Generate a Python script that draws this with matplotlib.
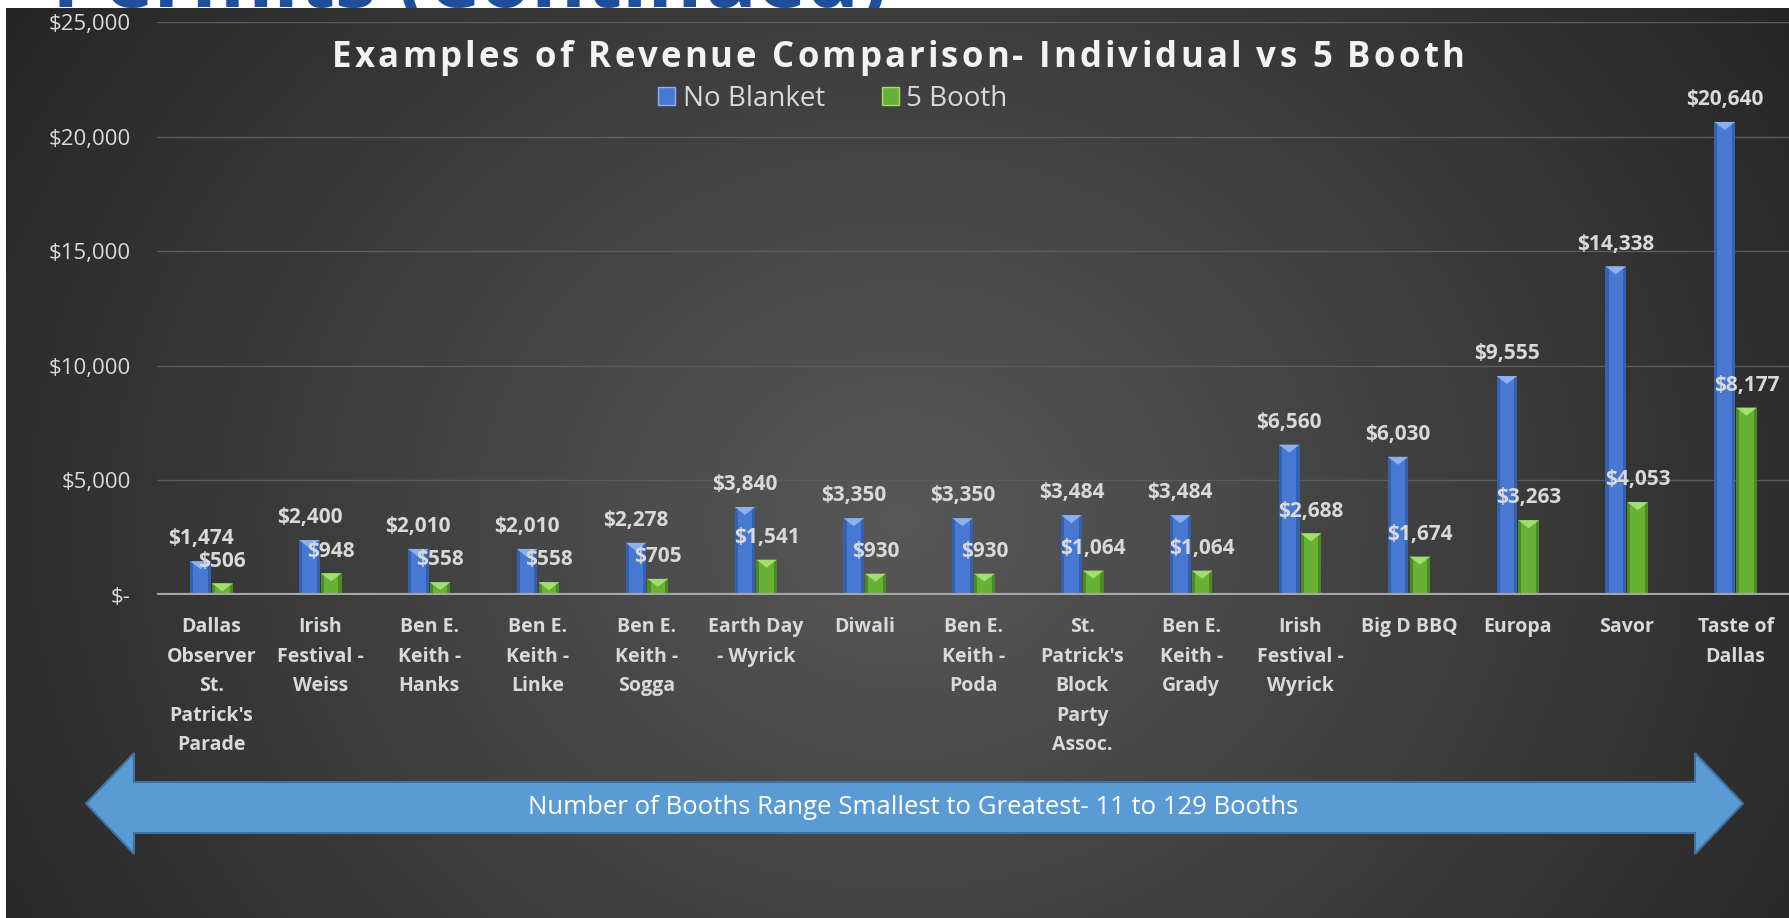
import numpy as np
import matplotlib
matplotlib.use("Agg")
import matplotlib.pyplot as plt
from matplotlib.patches import Polygon, Patch
from matplotlib.textpath import TextToPath
from matplotlib.font_manager import FontProperties

# ---- data ----
categories = [
    "Dallas\nObserver\nSt.\nPatrick's\nParade",
    "Irish\nFestival -\nWeiss",
    "Ben E.\nKeith -\nHanks",
    "Ben E.\nKeith -\nLinke",
    "Ben E.\nKeith -\nSogga",
    "Earth Day\n- Wyrick",
    "Diwali",
    "Ben E.\nKeith -\nPoda",
    "St.\nPatrick's\nBlock\nParty\nAssoc.",
    "Ben E.\nKeith -\nGrady",
    "Irish\nFestival -\nWyrick",
    "Big D BBQ",
    "Europa",
    "Savor",
    "Taste of\nDallas",
]
no_blanket = [1474, 2400, 2010, 2010, 2278, 3840, 3350, 3350, 3484, 3484, 6560, 6030, 9555, 14338, 20640]
five_booth = [506, 948, 558, 558, 705, 1541, 930, 930, 1064, 1064, 2688, 1674, 3263, 4053, 8177]
series_names = ["No Blanket", "5 Booth"]
y_ticks = [0, 5000, 10000, 15000, 20000, 25000]
y_tick_labels = ["$-", "$5,000", "$10,000", "$15,000", "$20,000", "$25,000"]
title = "Examples of Revenue Comparison- Individual vs 5 Booth"
arrow_text = "Number of Booths Range Smallest to Greatest- 11 to 129 Booths"
header_text = "Permits (Continued)"

W, H = 1790, 918
DPI = 100
FONT = "Open Sans"

fig = plt.figure(figsize=(W / DPI, H / DPI), dpi=DPI)
fig.patch.set_facecolor("white")

# header text partly hidden behind dark panel
fig.text(52 / W, 1 - 7 / H, header_text, ha="left", va="baseline",
         fontsize=60, fontweight="bold", family=FONT, color="#1F4E9C", zorder=-2)

# dark radial-gradient panel
px0, py0 = 6, 8
bg = fig.add_axes([px0 / W, 0, 1 - px0 / W, 1 - py0 / H], zorder=-1)
gw, gh = W - px0, H - py0
xx, yy = np.meshgrid(np.arange(gw) + px0, np.arange(gh) + py0)
d = np.hypot((xx - 900) * 1.0, (yy - 520) * 1.15)
v = np.clip(88 - 0.047 * d, 36, 90) / 255.0
img = np.dstack([v, v, v])
bg.imshow(img, aspect="auto", interpolation="bilinear")
bg.axis("off")

# main axes
ax_left, ax_bottom_px, ax_top_px = 157, 595, 22
ax = fig.add_axes([ax_left / W, 1 - ax_bottom_px / H, 1 - ax_left / W,
                   (ax_bottom_px - ax_top_px) / H], zorder=1)
ax.patch.set_alpha(0)
n = len(categories)
x = np.arange(n)
bw = 0.19
off = 0.1
ax.set_xlim(-0.5, n - 0.5)
ax.set_ylim(0, 25000)

colors = {
    0: dict(edge="#3460AE", main="#4779D2", top="#8DB0EE"),
    1: dict(edge="#4C8A26", main="#67B234", top="#A2DE70"),
}
bev = 8 / ax.bbox.height * 25000  # bevel depth in data units

for si, (vals, sign) in enumerate([(no_blanket, -1), (five_booth, 1)]):
    c = colors[si]
    xs = x + sign * off
    ax.bar(xs, vals, width=bw, color=c["edge"], zorder=3, linewidth=0)
    ax.bar(xs, vals, width=bw * 0.7, color=c["main"], zorder=3.1, linewidth=0)
    for xi, vi in zip(xs, vals):
        x0, x1 = xi - bw / 2, xi + bw / 2
        ax.add_patch(Polygon([(x0, vi), (x1, vi), (xi, vi - bev)], closed=True,
                             facecolor=c["top"], edgecolor="none", zorder=3.2))
        ax.annotate(f"${vi:,.0f}", (xi, vi), xytext=(0, 16), textcoords="offset points",
                    ha="center", va="center", fontsize=15, fontweight="bold",
                    family=FONT, color="#d9d9d9", zorder=5)

ax.set_yticks(y_ticks)
ax.set_yticklabels(y_tick_labels)
ax.set_xticks(x)
ax.set_xticklabels(categories, linespacing=1.63)
ax.tick_params(axis="y", length=0, pad=19, labelsize=16, labelcolor="#d9d9d9")
ax.tick_params(axis="x", length=0, pad=16, labelsize=14, labelcolor="#d9d9d9")
for lab in ax.get_yticklabels():
    lab.set_family(FONT)
for lab in ax.get_xticklabels():
    lab.set_family(FONT)
    lab.set_fontweight("bold")
    lab.set_verticalalignment("top")
for s in ax.spines.values():
    s.set_visible(False)
ax.yaxis.grid(True, color="#5c5c5c", linewidth=1)
ax.set_axisbelow(True)
ax.axhline(0, color="#a8a8a8", linewidth=3, zorder=4)
ax.axhline(0, color="#7a7a7a", linewidth=1, linestyle=(0, (1, 2)), zorder=4.1)

# title with letter spacing (characters placed along the line)
title_size = 25
tprop = FontProperties(family=FONT, weight="bold", size=title_size)
ttp = TextToPath()
def text_w_px(s):
    return ttp.get_text_width_height_descent(s, tprop, ismath=False)[0] * DPI / 72.0
ref_w = text_w_px("I")
target_w = 1132.0
natural_w = text_w_px(title)
gap = (target_w - natural_w) / (len(title) - 1)
x_start = 898 - target_w / 2
base_y = 67
for i, ch in enumerate(title):
    if ch == " ":
        continue
    adv = text_w_px(title[:i] + "I") - ref_w if i > 0 else 0.0
    fig.text((x_start + adv + gap * i) / W, 1 - base_y / H, ch, ha="left", va="baseline",
             fontproperties=tprop, color="#f2f2f2", zorder=5)

# legend
handles = [Patch(facecolor=colors[0]["main"], edgecolor=colors[0]["top"]),
           Patch(facecolor=colors[1]["main"], edgecolor=colors[1]["top"])]
fig.legend(handles, series_names, loc="center", bbox_to_anchor=(833 / W, 1 - 99 / H),
           ncol=2, frameon=False, prop=dict(family=FONT, size=20), labelcolor="#d9d9d9",
           handlelength=0.6, handleheight=0.6, columnspacing=2.05, handletextpad=0.28)

# double-headed arrow
def fp(px, py):
    return (px / W, 1 - py / H)

tipL, baseL, baseR, tipR = 86, 134, 1695, 1743
ymid, sh_t, sh_b, hd_t, hd_b = 803.5, 782, 833, 753, 854
pts = [fp(tipL, ymid), fp(baseL, hd_t), fp(baseL, sh_t), fp(baseR, sh_t), fp(baseR, hd_t),
       fp(tipR, ymid), fp(baseR, hd_b), fp(baseR, sh_b), fp(baseL, sh_b), fp(baseL, hd_b)]
fig.add_artist(Polygon(pts, closed=True, transform=fig.transFigure, facecolor="#5B9BD5",
                       edgecolor="#41719C", linewidth=1.5, zorder=2))
fig.text(913 / W, 1 - 808 / H, arrow_text, ha="center", va="center", fontsize=18.5,
         family=FONT, color="white", zorder=6)

fig.savefig("out.png", dpi=DPI, facecolor=fig.get_facecolor())
